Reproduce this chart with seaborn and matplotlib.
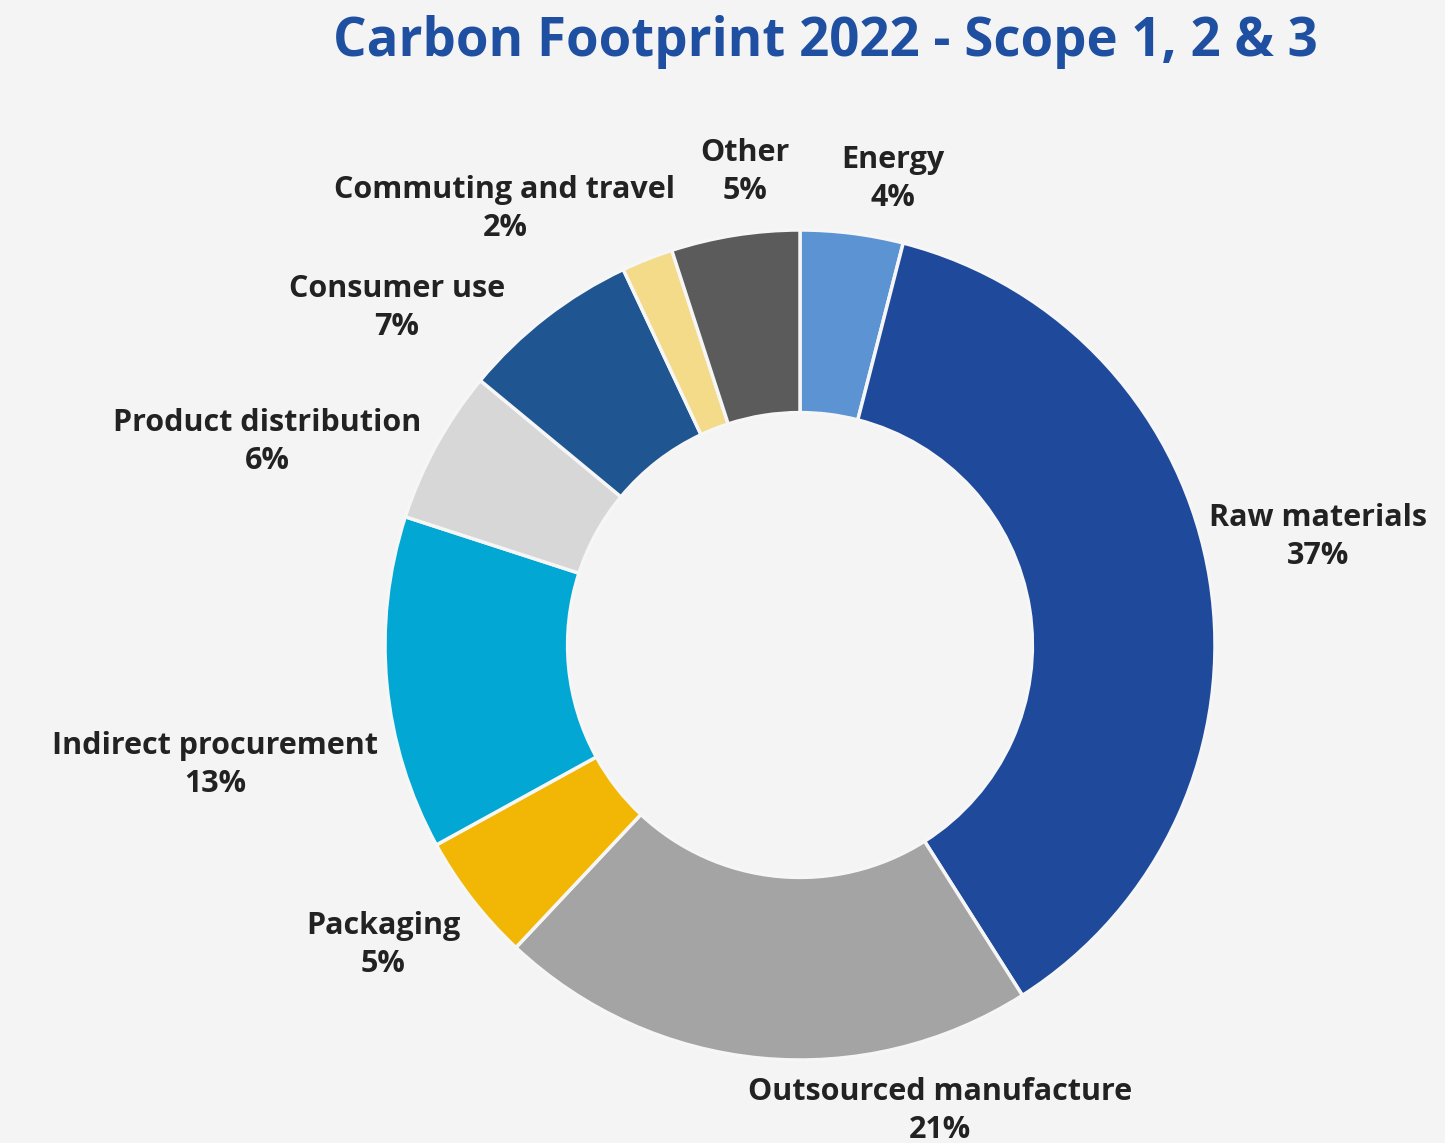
import matplotlib
matplotlib.use("Agg")
import matplotlib.pyplot as plt
import seaborn as sns

# ---- data ----
categories = ["Energy", "Raw materials", "Outsourced manufacture", "Packaging",
              "Indirect procurement", "Product distribution", "Consumer use",
              "Commuting and travel", "Other"]
shares = [4, 37, 21, 5, 13, 6, 7, 2, 5]
pct_labels = ["4%", "37%", "21%", "5%", "13%", "6%", "7%", "2%", "5%"]
title = "Carbon Footprint 2022 - Scope 1, 2 & 3"

# ---- styles / layout ----
colors = ["#5b93d3", "#1f4a9c", "#a4a4a4", "#f2b705", "#02a8d3",
          "#d7d7d7", "#1f5591", "#f3db8a", "#5b5b5b"]
# label centres (pixel coordinates, y from top)
label_pos = [(893, 160), (1318, 518), (940, 1092), (383, 926), (215, 746),
             (267, 423), (397, 289), (505, 190), (745, 153)]

W, H = 1445, 1143
bg = "#f4f4f4"

sns.set_theme(style="white")
plt.rcParams["font.family"] = ["Open Sans", "DejaVu Sans"]

fig = plt.figure(figsize=(W / 100, H / 100), dpi=100, facecolor=bg)
ax = fig.add_axes([0, 0, 1, 1])
ax.set_facecolor(bg)

cx, cy, R = 800, H - 645, 415
ax.pie(shares, colors=colors, startangle=90, counterclock=False,
       center=(cx, cy), radius=R, frame=True,
       wedgeprops=dict(width=R * 0.44, edgecolor="#f6f6f6", linewidth=2.5))
ax.set_xlim(0, W)
ax.set_ylim(0, H)
ax.set_aspect("equal")
ax.axis("off")

for name, pct, (x, y) in zip(categories, pct_labels, label_pos):
    ax.text(x, H - y, name, ha="center", va="center", fontsize=22,
            fontweight="bold", color="#222222")
    ax.text(x, H - y - 38, pct, ha="center", va="center", fontsize=22,
            fontweight="bold", color="#222222")

fig.text(825 / W, 1 - 42 / H, title, ha="center", va="center", fontsize=38,
         fontweight="bold", color="#1f4fa0")

fig.savefig("out.png", dpi=100, facecolor=bg)
